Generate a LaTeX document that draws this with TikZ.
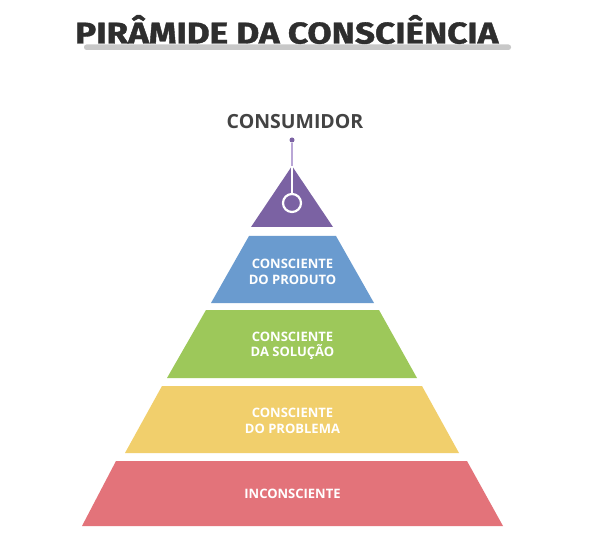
\documentclass[tikz,border=0pt]{standalone}
\usepackage{fontspec}
\setmainfont{Open Sans}
\newfontfamily\titlefont[FakeBold=1.2]{Fira Sans}
\definecolor{cpurple}{HTML}{7B62A3}
\definecolor{clav}{HTML}{B9A6D6}
\definecolor{cblue}{HTML}{6A9BCF}
\definecolor{cgreen}{HTML}{9DC85A}
\definecolor{cyellow}{HTML}{F1CF6C}
\definecolor{cred}{HTML}{E3737A}
\definecolor{ctitle}{HTML}{2E2E2E}
\definecolor{cbar}{HTML}{C8C8C8}
\begin{document}
\begin{tikzpicture}[x=1pt,y=-1pt,
  lbl/.style={text=white,font=\bfseries\fontsize{13}{15.5}\selectfont,align=center,inner sep=0pt},
  layer/.style={draw=none}]
\fill[white] (0,0) rectangle (600,548);
\useasboundingbox (0,0) rectangle (600,548);
% title
\fill[cbar,rounded corners=2.5pt] (84,44.5) rectangle (511,50);
\node[anchor=base west,inner sep=0pt,text=ctitle] (title) at (75,43.5)
  {\scalebox{1.17}[1]{\titlefont\bfseries\fontsize{30}{30}\selectfont PIRÂMIDE DA CONSCIÊNCIA}};
% layers
\fill[cpurple] (292,166) -- (333,227) -- (251,227) -- cycle;
\fill[cblue] (249,236) -- (336,236) -- (374,303) -- (211,303) -- cycle;
\fill[cgreen] (206,310) -- (379,310) -- (417,378) -- (167,378) -- cycle;
\fill[cyellow] (162,386) -- (422,386) -- (459,453) -- (125,453) -- cycle;
\fill[cred] (116,461) -- (467,461) -- (503,526) -- (82,526) -- cycle;
% consumer marker
\coordinate (apex) at (292,166);
\node[circle,fill=cpurple,draw=white,line width=2.2pt,minimum size=18pt,inner sep=0pt] (ring) at (292,203) {};
\node[circle,fill=cpurple,minimum size=5pt,inner sep=0pt] (dot) at (292,140) {};
\draw[clav,line width=2pt] (dot) -- (apex);
\draw[white,line width=2pt] (apex) -- (ring);
\node[text=ctitle!90,font=\bfseries\fontsize{19.5}{20}\selectfont,inner sep=0pt] (cons) at (295,122) {CONSUMIDOR};
% labels
\node[lbl] (l1) at (292.5,272) {CONSCIENTE\\DO PRODUTO};
\node[lbl] (l2) at (292.5,346) {CONSCIENTE\\DA SOLUÇÃO};
\node[lbl] (l3) at (292.5,421) {CONSCIENTE\\DO PROBLEMA};
\node[lbl] (l4) at (292.5,494) {INCONSCIENTE};
\end{tikzpicture}
\end{document}
